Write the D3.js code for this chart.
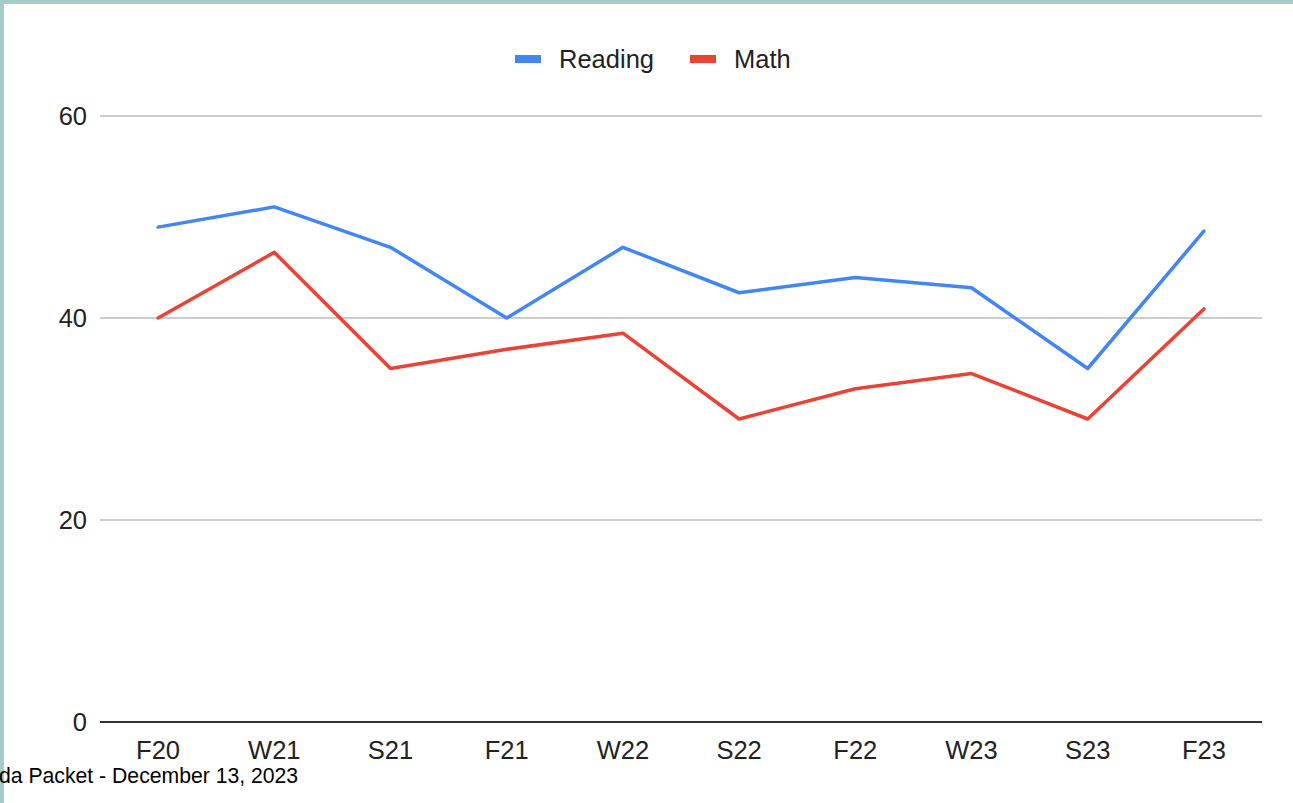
<!DOCTYPE html>
<html><head><meta charset="utf-8">
<script src="https://cdn.jsdelivr.net/npm/d3@7"></script>
<style>html,body{margin:0;padding:0;background:#fff;overflow:hidden}</style>
</head><body><svg id="c" width="1293" height="803"></svg>
<script>
const categories = ["F20","W21","S21","F21","W22","S22","F22","W23","S23","F23"];
const reading = [49, 51, 47, 40, 47, 42.5, 44, 43, 35, 48.6];
const math = [40, 46.5, 35, 36.9, 38.5, 30, 33, 34.5, 30, 40.9];
const yTicks = [0, 20, 40, 60];
const seriesNames = ["Reading", "Math"];
const seriesColors = ["#4285f4", "#ea4335"];
const footerText = "da Packet - December 13, 2023";

const svg = d3.select("#c");
const font = "Liberation Sans, Arial, sans-serif";
// border
svg.append("rect").attr("x",0).attr("y",0).attr("width",1293).attr("height",4).attr("fill","#a6cdc5");
svg.append("rect").attr("x",0).attr("y",0).attr("width",4).attr("height",803).attr("fill","#a6cdc5");

const x = d3.scaleBand().domain(categories).range([100,1262]);
const y = d3.scaleLinear().domain([0,60]).range([722,116]);

// grid
svg.append("g").selectAll("line").data(yTicks.filter(d=>d>0)).join("line")
  .attr("x1",100).attr("x2",1262).attr("y1",d=>y(d)).attr("y2",d=>y(d))
  .attr("stroke","#cccccc").attr("stroke-width",2);
// y labels
svg.append("g").selectAll("text").data(yTicks).join("text")
  .attr("x",87).attr("y",d=>y(d)).attr("dy","0.36em").attr("text-anchor","end")
  .attr("font-family",font).attr("font-size",25.5).attr("fill","#222").text(d=>d);
// baseline
svg.append("line").attr("x1",100).attr("x2",1262).attr("y1",y(0)).attr("y2",y(0))
  .attr("stroke","#333").attr("stroke-width",2);
// x labels
svg.append("g").selectAll("text").data(categories).join("text")
  .attr("x",d=>x(d)+x.bandwidth()/2).attr("y",759).attr("text-anchor","middle")
  .attr("font-family",font).attr("font-size",25.5).attr("fill","#222").text(d=>d);

const line = d3.line().x((d,i)=>x(categories[i])+x.bandwidth()/2).y(d=>y(d));
[reading, math].forEach((s,i)=>{
  svg.append("path").datum(s).attr("d",line).attr("fill","none")
    .attr("stroke",seriesColors[i]).attr("stroke-width",3.5)
    .attr("stroke-linejoin","round").attr("stroke-linecap","round");
});

// legend
const legX = [515, 690];
seriesNames.forEach((n,i)=>{
  svg.append("rect").attr("x",legX[i]).attr("y",55).attr("width",26).attr("height",8).attr("fill",seriesColors[i]);
  svg.append("text").attr("x",legX[i]+44).attr("y",59).attr("dy","0.36em")
    .attr("font-family",font).attr("font-size",25.5).attr("fill","#222").text(n);
});

// footer
svg.append("text").attr("x",-1).attr("y",783).attr("font-family",font).attr("font-size",21.2)
  .attr("fill","#000").text(footerText);
</script></body></html>
